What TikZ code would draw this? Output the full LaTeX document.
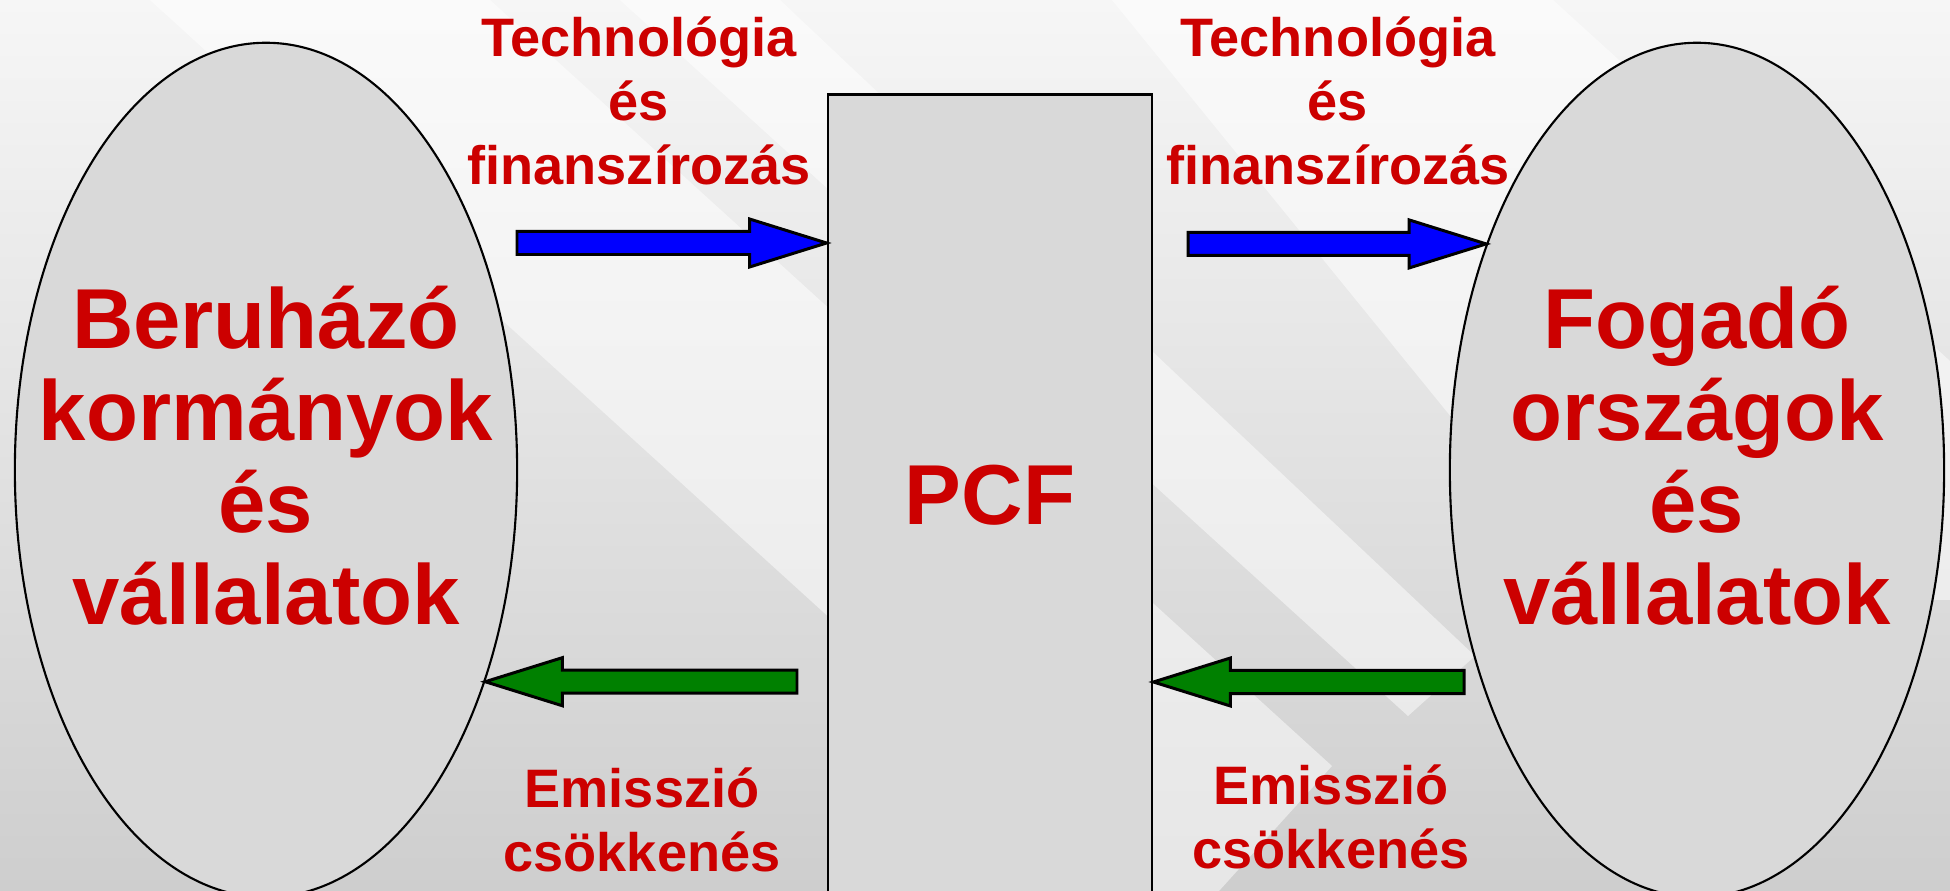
\documentclass[tikz,border=0pt]{standalone}
\usepackage{fontspec}
\setmainfont{Liberation Sans}
\usetikzlibrary{shapes.geometric, calc}
\definecolor{PCFred}{RGB}{204,0,0}
\definecolor{PCFblue}{RGB}{0,0,255}
\definecolor{PCFgreen}{RGB}{0,128,0}
\definecolor{PCFfill}{RGB}{217,217,217}
\definecolor{PCFtop}{RGB}{246,246,246}
\definecolor{PCFbottom}{RGB}{206,206,206}

% block arrow: tail, tip, colour
\newcommand{\blockarrow}[3]{%
  \filldraw[flow, fill=#3] let \p1=(#1), \p2=(#2), \n1={sign(\x2-\x1)} in
    (\x1,{\y2+0.115cm}) -- ({\x2-\n1*0.77cm},{\y2+0.115cm})
    -- ({\x2-\n1*0.77cm},{\y2+0.24cm}) -- (\x2,\y2)
    -- ({\x2-\n1*0.77cm},{\y2-0.24cm}) -- ({\x2-\n1*0.77cm},{\y2-0.115cm})
    -- (\x1,{\y2-0.115cm}) -- cycle;}

\begin{document}
\begin{tikzpicture}[x=0.01cm, y=-0.01cm,
      party/.style={ellipse, draw=black, line width=0.6pt, fill=PCFfill,
                    minimum height=8.54cm, inner sep=0pt},
      hub/.style={rectangle, draw=black, line width=0.75pt, fill=PCFfill,
                  minimum width=3.24cm, minimum height=8cm, text=PCFred,
                  font=\fontsize{24.2}{26.2}\selectfont\bfseries},
      biglbl/.style={align=center, text=PCFred, inner sep=0pt,
                     font=\fontsize{24.2}{26.2}\selectfont\bfseries},
      lbl/.style={align=center, text=PCFred, inner sep=0pt,
                  font=\fontsize{15.4}{18.2}\selectfont\bfseries},
      band/.style={fill=white, opacity=0.5},
      flow/.style={draw=black, line width=0.85pt, line join=miter}
    ]
    \useasboundingbox (0,0) rectangle (1950,891);
    \clip (0,0) rectangle (1950,891);

    % background
    \shade[top color=PCFtop, bottom color=PCFbottom] (0,0) rectangle (1950,891);
    \fill[band] (150,0) -- (490,0) -- (1332,766) -- (1219,891) -- (1130,891) -- cycle;
    \fill[band] (620,0) -- (780,0) -- (1475,656) -- (1408,716) -- cycle;
    \fill[band] (1112,0) -- (1553,0) -- (1950,361) -- (1950,600) -- (1600,600) -- cycle;

    \node[party, minimum width=5.02cm] (inv)  at (266,470)  {};
    \node[party, minimum width=4.94cm] (host) at (1697,470) {};
    \node[hub] (pcf) at (990,495) {PCF};

    \node[biglbl] (invtxt)  at (266,456)
          {Beruházó\\kormányok\\és\\vállalatok};
    \node[biglbl] (hosttxt) at (1697,456)
          {Fogadó\\országok\\és\\vállalatok};

    \coordinate (techrow) at (0,243);
    \coordinate (emisrow) at (0,682);
    \coordinate (techtailA) at (517,243);
    \coordinate (techtailB) at (1188,243);
    \coordinate (emistailA) at (1464,682);
    \coordinate (emistailB) at (797,682);

    \blockarrow{techtailA}{pcf.west |- techrow}{PCFblue}
    \blockarrow{techtailB}{host.133.5}{PCFblue}
    \blockarrow{emistailA}{pcf.east |- emisrow}{PCFgreen}
    \blockarrow{emistailB}{inv.-44.2}{PCFgreen}

    \node[lbl] (techA) at (639,101) {Technológia\\és\\finanszírozás};
    \node[lbl] (techB) at (1338,101) {Technológia\\és\\finanszírozás};
    \node[lbl] (emisA) at (642,820) {Emisszió\\csökkenés};
    \node[lbl] (emisB) at (1331,817) {Emisszió\\csökkenés};
  \end{tikzpicture}
\end{document}
